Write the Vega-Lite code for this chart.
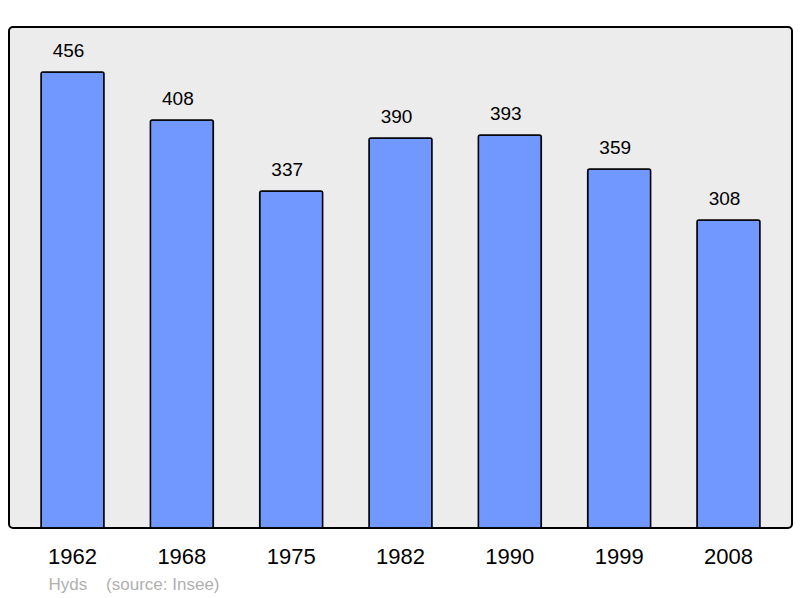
{
  "$schema": "https://vega.github.io/schema/vega-lite/v6.json",
  "width": 783,
  "height": 501,
  "autosize": {"type": "none"},
  "padding": {"left": 9, "top": 27, "right": 8, "bottom": 70},
  "background": "#ffffff",
  "config": {
    "font": "Liberation Sans",
    "view": {"fill": "#ececec", "stroke": "#000000", "strokeWidth": 2, "cornerRadius": 4}
  },
  "data": {
    "values": [
      {"year": "1962", "pop": 456},
      {"year": "1968", "pop": 408},
      {"year": "1975", "pop": 337},
      {"year": "1982", "pop": 390},
      {"year": "1990", "pop": 393},
      {"year": "1999", "pop": 359},
      {"year": "2008", "pop": 308}
    ]
  },
  "encoding": {
    "x": {
      "field": "year",
      "type": "ordinal",
      "scale": {"paddingInner": 0.424, "paddingOuter": 0.293},
      "axis": {
        "domain": false,
        "ticks": false,
        "tickSize": 0,
        "labelAngle": 0,
        "labelFontSize": 22,
        "labelColor": "#000000",
        "labelPadding": 18,
        "title": "Hyds\u00a0\u00a0\u00a0\u00a0(source: Insee)",
        "titleFontSize": 17,
        "titleFontWeight": "normal",
        "titleColor": "#b0b0b0",
        "titleAlign": "left",
        "titleBaseline": "middle",
        "titleAnchor": "start",
        "titleX": 39,
        "titleY": 56
      }
    },
    "y": {
      "field": "pop",
      "type": "quantitative",
      "scale": {"domain": [0, 501], "nice": false},
      "axis": null
    }
  },
  "layer": [
    {
      "mark": {
        "type": "bar",
        "color": "#7098ff",
        "stroke": "#000000",
        "strokeWidth": 1.5,
        "cornerRadiusTopLeft": 2,
        "cornerRadiusTopRight": 2
      }
    },
    {
      "mark": {"type": "text", "dy": -21, "dx": -4, "fontSize": 19, "baseline": "middle", "color": "#000000"},
      "encoding": {"text": {"field": "pop", "type": "quantitative"}}
    }
  ]
}
